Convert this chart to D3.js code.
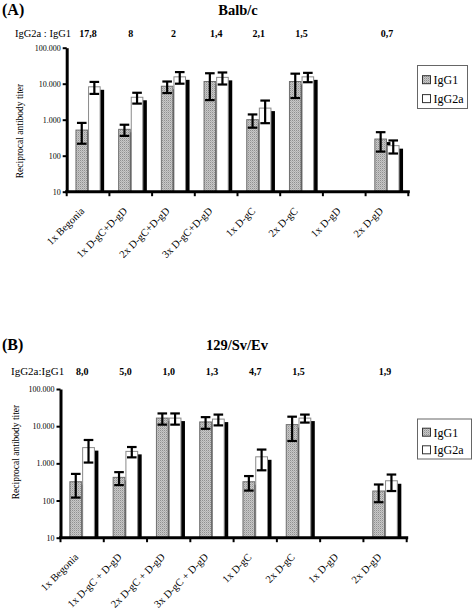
<!DOCTYPE html>
<html>
<head>
<meta charset="utf-8">
<script src="https://cdn.jsdelivr.net/npm/d3@7"></script>
<style>
  html, body { margin: 0; padding: 0; background: #fff; }
  svg { display: block; font-family: "Liberation Serif", "Times New Roman", serif; }
</style>
</head>
<body>
<svg id="chart" width="473" height="609"></svg>
<script>
// ---------- DATA ----------
const seriesNames = ["IgG1", "IgG2a"];
const yTickValues = [10, 100, 1000, 10000, 100000];
const yTickLabels = ["10", "100", "1.000", "10.000", "100.000"];

const categoriesA = ["1x Begonia", "1x D-gC+D-gD", "2x D-gC+D-gD", "3x D-gC+D-gD", "1x D-gC", "2x D-gC", "1x D-gD", "2x D-gD"];
const igg1A     = [515, 540, 8500, 11500, 1000, 11500, null, 290];
const igg1ErrA  = [300, 185, 3000, 8000, 400, 7500, null, 160];
const igg2aA    = [8200, 4200, 15500, 15000, 2100, 15500, null, 190];
const igg2aErrA = [3000, 1400, 5500, 5500, 1300, 4500, null, 75];
const ratiosA   = ["17,8", "8", "2", "1,4", "2,1", "1,5", "", "0,7"];

const categoriesB = ["1x Begonia", "1x D-gC + D-gD", "2x D-gC + D-gD", "3x D-gC + D-gD", "1x D-gC", "2x D-gC", "1x D-gD", "2x D-gD"];
const igg1B     = [320, 420, 16500, 13000, 320, 11000, null, 180];
const igg1ErrB  = [200, 160, 5500, 4500, 135, 7000, null, 90];
const igg2aB    = [2650, 2100, 16500, 15500, 1500, 16500, null, 340];
const igg2aErrB = [1600, 650, 5500, 5000, 850, 4000, null, 160];
const ratiosB   = ["8,0", "5,0", "1,0", "1,3", "4,7", "1,5", "", "1,9"];

// ---------- DRAW ----------
const SERIF = "Liberation Serif, Times New Roman, serif";
const svg = d3.select("#chart");

// stippled grey pattern
const defs = svg.append("defs");
const pat = defs.append("pattern").attr("id", "stipple")
  .attr("width", 2).attr("height", 2).attr("patternUnits", "userSpaceOnUse");
pat.append("rect").attr("width", 2).attr("height", 2).attr("fill", "#c8c8c8");
pat.append("rect").attr("width", 1).attr("height", 1).attr("fill", "#909090");
pat.append("rect").attr("x", 1).attr("y", 1).attr("width", 1).attr("height", 1).attr("fill", "#b0b0b0");

function drawPanel(cfg) {
  const g = svg.append("g");
  const x = d3.scaleBand().domain(cfg.categories).range([cfg.x0, cfg.x1]).padding(0);
  const y = d3.scaleLog().domain([10, 100000]).range([cfg.yBottom, cfg.yTop]);
  const bw = x.bandwidth() * 0.295;

  // panel letter & title
  g.append("text").attr("x", 2).attr("y", cfg.titleY).attr("font-size", 16).attr("font-weight", "bold").text(cfg.letter);
  g.append("text").attr("x", cfg.titleX).attr("y", cfg.titleY).attr("text-anchor", "middle")
    .attr("font-size", 14.5).attr("font-weight", "bold").text(cfg.title);

  // ratio row
  g.append("text").attr("x", cfg.ratioLabelX).attr("y", cfg.ratioY).attr("font-size", cfg.ratioLabelSize).text(cfg.ratioLabel);
  g.selectAll(".ratio").data(cfg.categories).enter().append("text")
    .attr("x", d => x(d) + x.bandwidth() / 2).attr("y", cfg.ratioY)
    .attr("text-anchor", "middle").attr("font-size", 10).attr("font-weight", "bold")
    .text((d, i) => cfg.ratios[i]);

  const series = [
    { vals: cfg.s1, errs: cfg.e1, fill: "url(#stipple)", stroke: "#6e6e6e", off: -bw },
    { vals: cfg.s2, errs: cfg.e2, fill: "#ffffff", stroke: "#8a8a8a", off: 0 }
  ];

  series.forEach(s => {
    const data = cfg.categories.map((c, i) => ({ c, v: s.vals[i], e: s.errs[i] })).filter(d => d.v != null);
    // shadow
    g.selectAll(null).data(data).enter().append("rect")
      .attr("x", d => x(d.c) + x.bandwidth() / 2 + s.off + 3.5)
      .attr("y", d => y(d.v) + 3)
      .attr("width", bw)
      .attr("height", d => cfg.yBottom - y(d.v) - 3)
      .attr("fill", "#000");
    // bar
    g.selectAll(null).data(data).enter().append("rect")
      .attr("x", d => x(d.c) + x.bandwidth() / 2 + s.off + 0.5)
      .attr("y", d => y(d.v))
      .attr("width", bw - 1)
      .attr("height", d => cfg.yBottom - y(d.v))
      .attr("fill", s.fill).attr("stroke", s.stroke).attr("stroke-width", 1);
  });

  series.forEach(s => {
    const data = cfg.categories.map((c, i) => ({ c, v: s.vals[i], e: s.errs[i] })).filter(d => d.v != null);
    const cx = d => x(d.c) + x.bandwidth() / 2 + s.off + bw / 2;
    const eb = g.selectAll(null).data(data).enter().append("g")
      .attr("stroke", "#000").attr("stroke-width", 2.2);
    eb.append("line").attr("x1", cx).attr("x2", cx)
      .attr("y1", d => y(d.v + d.e)).attr("y2", d => y(Math.max(d.v - d.e, 11)));
    eb.append("line").attr("x1", d => cx(d) - 4.8).attr("x2", d => cx(d) + 4.8)
      .attr("y1", d => y(d.v + d.e)).attr("y2", d => y(d.v + d.e));
    eb.append("line").attr("x1", d => cx(d) - 4.8).attr("x2", d => cx(d) + 4.8)
      .attr("y1", d => y(Math.max(d.v - d.e, 11))).attr("y2", d => y(Math.max(d.v - d.e, 11)));
  });

  // y axis
  const yAxis = d3.axisLeft(y).tickValues(yTickValues)
    .tickFormat((d, i) => yTickLabels[i]).tickSizeInner(4).tickSizeOuter(0).tickPadding(2);
  const ya = g.append("g").attr("transform", `translate(${cfg.x0},0)`).call(yAxis)
    .attr("font-family", SERIF).attr("font-size", 8);
  ya.select(".domain").attr("stroke-width", 3);
  ya.selectAll(".tick line").attr("stroke-width", 2);

  // x axis
  const xAxis = d3.axisBottom(x).tickSizeInner(0).tickSizeOuter(0).tickFormat("");
  const xa = g.append("g").attr("transform", `translate(0,${cfg.yBottom})`).call(xAxis)
    .attr("font-family", SERIF);
  xa.select(".domain").attr("stroke-width", 3).attr("d", `M${cfg.x0 - 1.5},0H${cfg.x1 + 1.5}`);
  // boundary ticks
  const bounds = cfg.categories.map(c => x(c)).concat([cfg.x1]);
  xa.selectAll(".btick").data(bounds).enter().append("line")
    .attr("x1", d => d).attr("x2", d => d).attr("y1", 0).attr("y2", 4.5)
    .attr("stroke", "#000").attr("stroke-width", 2);
  // rotated labels
  xa.selectAll(".xl").data(cfg.categories).enter().append("text")
    .attr("transform", d => `translate(${x(d) + x.bandwidth() / 2 - 3},${20}) rotate(-45)`)
    .attr("text-anchor", "end").attr("font-size", 10.5).attr("fill", "#000")
    .text(d => d);

  // y label
  g.append("text")
    .attr("transform", `translate(${cfg.yLabelX},${cfg.yLabelY}) rotate(-90)`)
    .attr("text-anchor", "middle").attr("font-size", 9.5).text("Reciprocal antibody titer");

  // legend
  const lg = g.append("g");
  lg.append("rect").attr("x", cfg.legX).attr("y", cfg.legY).attr("width", cfg.legW).attr("height", cfg.legH)
    .attr("fill", "#fff").attr("stroke", "#666").attr("stroke-width", 1);
  seriesNames.forEach((n, i) => {
    const ry = cfg.legY + cfg.legH * (0.33 + i * 0.44);
    lg.append("rect").attr("x", cfg.legX + 5).attr("y", ry - 4).attr("width", 8).attr("height", 8)
      .attr("fill", i === 0 ? "url(#stipple)" : "#fff").attr("stroke", "#333").attr("stroke-width", 1);
    lg.append("text").attr("x", cfg.legX + 16).attr("y", ry + 4.5).attr("font-size", 12).text(n);
  });
}

drawPanel({
  letter: "(A)", title: "Balb/c", titleX: 238, titleY: 15,
  ratioLabel: "IgG2a : IgG1", ratioLabelX: 15, ratioLabelSize: 10.5, ratioY: 37,
  categories: categoriesA, s1: igg1A, e1: igg1ErrA, s2: igg2aA, e2: igg2aErrA, ratios: ratiosA,
  x0: 66.7, x1: 408.3, yBottom: 191.7, yTop: 47.7,
  yLabelX: 23, yLabelY: 131,
  legX: 417.5, legY: 65.5, legW: 50, legH: 43
});

drawPanel({
  letter: "(B)", title: "129/Sv/Ev", titleX: 237, titleY: 350,
  ratioLabel: "IgG2a:IgG1", ratioLabelX: 11, ratioLabelSize: 11, ratioY: 375,
  categories: categoriesB, s1: igg1B, e1: igg1ErrB, s2: igg2aB, e2: igg2aErrB, ratios: ratiosB,
  x0: 60.5, x1: 406.7, yBottom: 537.7, yTop: 389,
  yLabelX: 19, yLabelY: 452,
  legX: 417.5, legY: 419, legW: 54, legH: 40
});
</script>
</body>
</html>
